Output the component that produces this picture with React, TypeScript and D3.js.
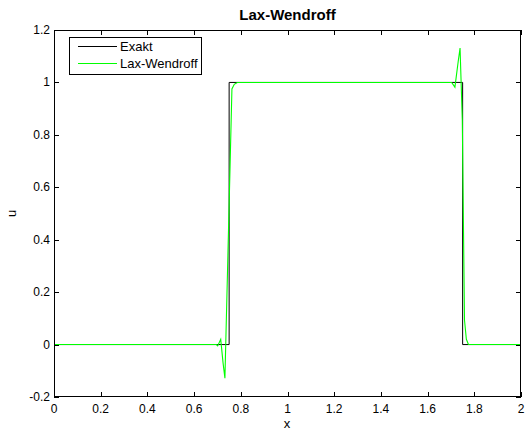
import React from "react";
import * as d3 from "d3";

const xTicks = [0, 0.2, 0.4, 0.6, 0.8, 1, 1.2, 1.4, 1.6, 1.8, 2];
const yTicks = [-0.2, 0, 0.2, 0.4, 0.6, 0.8, 1, 1.2];

const exactX = [0, 0.75, 0.75, 1.75, 1.75, 2];
const exactU = [0, 0, 1, 1, 0, 0];

const lwX = [0, 0.695, 0.701, 0.714, 0.724, 0.732, 0.762, 0.772, 0.785, 1.703, 1.717, 1.731, 1.739, 1.7486, 1.758, 1.766, 1.775, 2];
const lwU = [0, 0, -0.005, 0.02, -0.07, -0.128, 0.975, 0.993, 1.0, 1.0, 0.982, 1.08, 1.131, 0.857, 0.094, 0.02, 0, 0];

const legendLabels = ["Exakt", "Lax-Wendroff"];
const legendColors = ["#000000", "#00ff00"];

const W = 526;
const H = 431;
const L = 54, R = 521, T = 30, B = 397;
const FONT = "'Liberation Sans', Arial, Helvetica, sans-serif";

export default function App() {
  const x = d3.scaleLinear().domain([0, 2]).range([L, R]);
  const y = d3.scaleLinear().domain([-0.2, 1.2]).range([B, T]);
  const line = d3
    .line<[number, number]>()
    .x((d) => x(d[0]))
    .y((d) => y(d[1]));
  const exactPts = exactX.map((v, i) => [v, exactU[i]] as [number, number]);
  const lwPts = lwX.map((v, i) => [v, lwU[i]] as [number, number]);
  const tl = 5;
  const fmt = (v: number) => String(Math.round(v * 10) / 10);

  return (
    <svg
      width={W}
      height={H}
      style={{ position: "absolute", left: 0, top: 0, background: "#fff" }}
      fontFamily={FONT}
    >
      <rect x={0} y={0} width={W} height={H} fill="#fff" />
      <rect x={L} y={T} width={R - L} height={B - T} fill="#fff" />
      <path d={line(exactPts) || ""} fill="none" stroke="#000" strokeWidth={1} />
      <path d={line(lwPts) || ""} fill="none" stroke="#00ff00" strokeWidth={1.1} />
      <rect x={L + 0.5} y={T + 0.5} width={R - L - 1} height={B - T - 1} fill="none" stroke="#000" strokeWidth={1} />
      {xTicks.map((t) => {
        const px = Math.round(x(t)) + 0.5;
        return (
          <g key={"x" + t}>
            <line x1={px} x2={px} y1={B} y2={B - tl} stroke="#000" />
            <line x1={px} x2={px} y1={T} y2={T + tl} stroke="#000" />
            <text x={x(t)} y={413} fontSize={12} textAnchor="middle" fill="#000">
              {fmt(t)}
            </text>
          </g>
        );
      })}
      {yTicks.map((t) => {
        const py = Math.round(y(t)) + 0.5;
        return (
          <g key={"y" + t}>
            <line x1={L} x2={L + tl} y1={py} y2={py} stroke="#000" />
            <line x1={R} x2={R - tl} y1={py} y2={py} stroke="#000" />
            <text x={50} y={y(t) + 4} fontSize={12} textAnchor="end" fill="#000">
              {fmt(t)}
            </text>
          </g>
        );
      })}
      <text x={(L + R) / 2} y={19.5} fontSize={15} fontWeight="bold" textAnchor="middle" fill="#000">
        Lax-Wendroff
      </text>
      <text x={287} y={428} fontSize={13} textAnchor="middle" fill="#000">
        x
      </text>
      <text
        transform={`translate(16,${(T + B) / 2}) rotate(-90)`}
        fontSize={13}
        textAnchor="middle"
        fill="#000"
      >
        u
      </text>
      <g>
        <rect x={69.5} y={37.5} width={132} height={37} fill="#fff" stroke="#000" />
        {legendLabels.map((lab, i) => (
          <g key={lab}>
            <line x1={78} x2={117} y1={46.5 + i * 17} y2={46.5 + i * 17} stroke={legendColors[i]} strokeWidth={1} />
            <text x={120} y={51 + i * 16.5} fontSize={13} fill="#000">
              {lab}
            </text>
          </g>
        ))}
      </g>
    </svg>
  );
}
